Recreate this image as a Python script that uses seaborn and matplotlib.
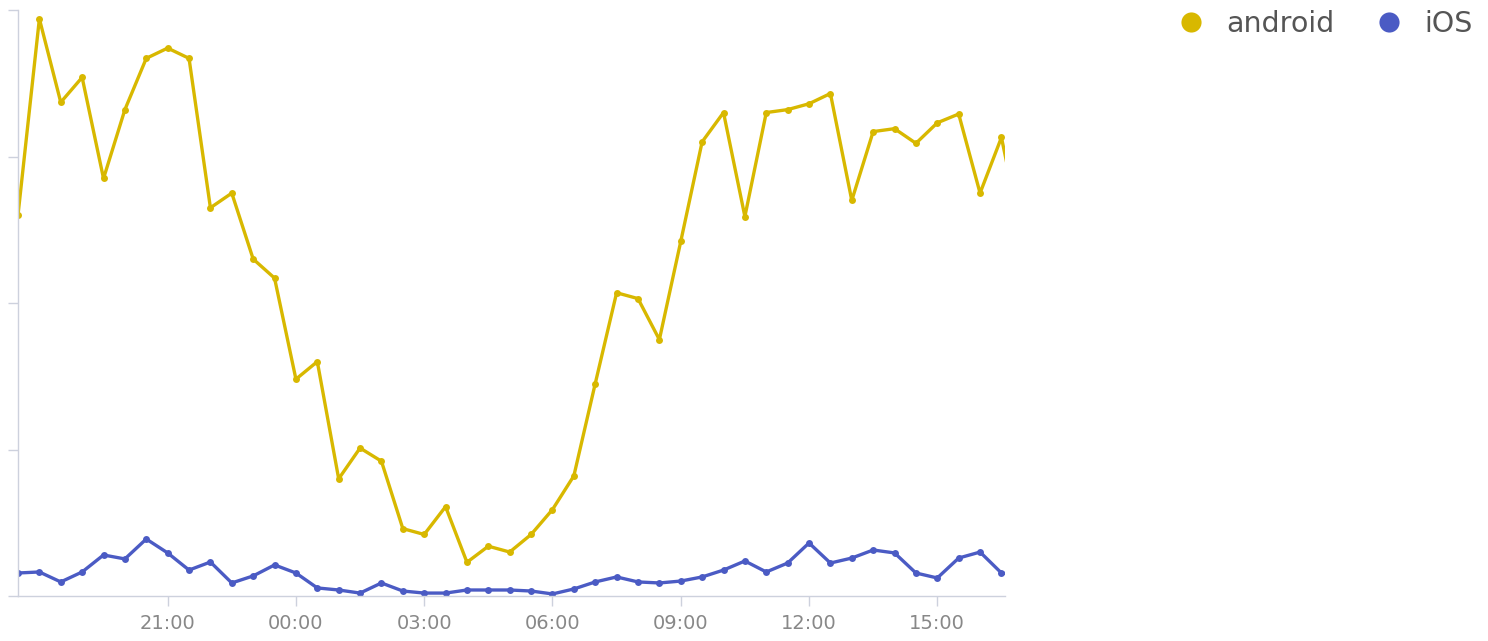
import pandas as pd
import matplotlib.pyplot as plt
import matplotlib.dates as mdates
from matplotlib.lines import Line2D
import seaborn as sns

# half-hourly samples, 17:30 -> 17:00 next day
times = pd.date_range('2023-01-01 17:30', periods=48, freq='30min')

android = [260, 394, 337, 354, 285, 332, 367, 374, 367, 265, 275, 230,
           217, 148, 160, 80, 101, 92, 46, 42, 61, 23, 34, 30,
           42, 59, 82, 145, 207, 203, 175, 242, 310, 330, 259, 330,
           332, 336, 343, 270, 317, 319, 309, 323, 329, 275, 313, 243]

ios = [15.7, 16.4, 9.6, 16.4, 28.0, 25.3, 38.9, 29.4, 17.7, 23.2, 8.9, 13.7,
       21.2, 15.7, 5.5, 4.1, 2.0, 8.9, 3.4, 2.0, 2.0, 4.1, 4.1, 4.1,
       3.4, 1.4, 4.8, 9.6, 13.0, 9.6, 8.9, 10.2, 13.0, 17.7, 23.9, 16.4,
       22.5, 36.2, 22.5, 25.9, 31.4, 29.4, 15.7, 12.3, 25.9, 30.0, 15.7, 14.0]

tick_times = pd.to_datetime(['2023-01-01 21:00', '2023-01-02 00:00', '2023-01-02 03:00',
                             '2023-01-02 06:00', '2023-01-02 09:00', '2023-01-02 12:00',
                             '2023-01-02 15:00'])

platforms = ['android', 'iOS']
colors = {'android': '#d8b800', 'iOS': '#4b5bc4'}

df = pd.DataFrame({'time': list(times) * 2,
                   'value': android + ios,
                   'platform': ['android'] * len(android) + ['iOS'] * len(ios)})

sns.set_style('white')
plt.rcParams['font.family'] = ['DejaVu Sans']

fig = plt.figure(figsize=(14.88, 6.41), dpi=100)
ax = fig.add_axes([18 / 1488, 1 - 596 / 641, (1005 - 18) / 1488, (596 - 10) / 641])

sns.lineplot(data=df, x='time', y='value', hue='platform', palette=colors,
             marker='o', markersize=5, markeredgewidth=0, linewidth=2.4,
             legend=False, ax=ax)

ax.set_xlim(times[0], pd.Timestamp('2023-01-02 16:35'))
ax.set_ylim(0, 400)
ax.set_yticks([0, 100, 200, 300, 400])
ax.set_yticklabels([])
ax.set_xticks(tick_times)
ax.xaxis.set_major_formatter(mdates.DateFormatter('%H:%M'))
ax.set_xlabel('')
ax.set_ylabel('')

axis_col = '#cdd1dd'
for side in ['top', 'right']:
    ax.spines[side].set_visible(False)
for side in ['left', 'bottom']:
    ax.spines[side].set_color(axis_col)
    ax.spines[side].set_linewidth(1)
ax.tick_params(axis='both', direction='out', length=7, width=1, color=axis_col)
ax.tick_params(axis='x', labelsize=14, labelcolor='#888888', pad=6)
ax.tick_params(axis='y', left=True)
ax.tick_params(axis='x', bottom=True)

handles = [Line2D([], [], linestyle='none', marker='o', markersize=14.5,
                  markerfacecolor=colors[p], markeredgewidth=0) for p in platforms]
fig.legend(handles, platforms, loc='upper right', bbox_to_anchor=(1.007, 1.025),
           ncol=2, frameon=False, fontsize=20.5, labelcolor='#555555',
           handlelength=1, handletextpad=0.75, columnspacing=1.4)

plt.savefig('out.png', dpi=100)
plt.close()
